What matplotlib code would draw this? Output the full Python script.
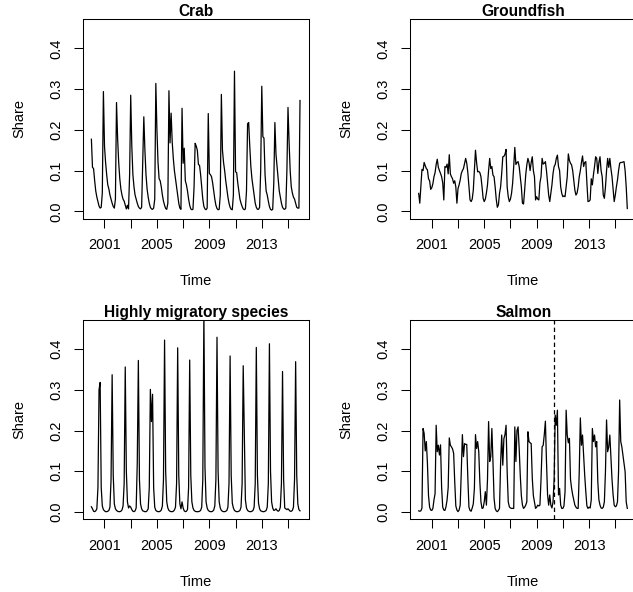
import numpy as np
import matplotlib
matplotlib.use("Agg")
import matplotlib.pyplot as plt

plt.rcParams['font.family'] = ['Liberation Sans', 'DejaVu Sans']

# monthly shares, Jan 2000 .. Dec 2015
start_year = 2000
titles = ["Crab", "Groundfish", "Highly migratory species", "Salmon"]

crab = [
    0.177, 0.108, 0.105, 0.075, 0.050, 0.035, 0.024, 0.013, 0.008, 0.010, 0.045, 0.294,
    0.160, 0.120, 0.090, 0.065, 0.055, 0.040, 0.030, 0.020, 0.012, 0.008, 0.030, 0.267,
    0.180, 0.120, 0.080, 0.055, 0.040, 0.030, 0.025, 0.015, 0.006, 0.015, 0.006, 0.090,
    0.285, 0.160, 0.090, 0.060, 0.040, 0.030, 0.020, 0.012, 0.008, 0.006, 0.010, 0.120,
    0.232, 0.150, 0.090, 0.055, 0.035, 0.020, 0.010, 0.006, 0.005, 0.008, 0.030, 0.314,
    0.200, 0.120, 0.080, 0.075, 0.060, 0.040, 0.025, 0.015, 0.007, 0.005, 0.020, 0.296,
    0.168, 0.241, 0.170, 0.130, 0.100, 0.080, 0.060, 0.040, 0.020, 0.008, 0.005, 0.253,
    0.118, 0.155, 0.075, 0.065, 0.050, 0.030, 0.015, 0.006, 0.004, 0.005, 0.060, 0.167,
    0.160, 0.150, 0.115, 0.113, 0.090, 0.060, 0.030, 0.012, 0.006, 0.004, 0.008, 0.240,
    0.093, 0.090, 0.085, 0.070, 0.050, 0.030, 0.015, 0.007, 0.004, 0.005, 0.040, 0.287,
    0.150, 0.120, 0.100, 0.075, 0.055, 0.035, 0.020, 0.010, 0.005, 0.004, 0.040, 0.344,
    0.097, 0.095, 0.070, 0.050, 0.030, 0.020, 0.012, 0.006, 0.004, 0.006, 0.050, 0.215,
    0.218, 0.160, 0.110, 0.080, 0.060, 0.040, 0.020, 0.010, 0.005, 0.005, 0.010, 0.100,
    0.307, 0.183, 0.180, 0.090, 0.050, 0.040, 0.025, 0.012, 0.005, 0.003, 0.005, 0.070,
    0.218, 0.140, 0.110, 0.080, 0.050, 0.035, 0.020, 0.010, 0.006, 0.005, 0.008, 0.100,
    0.255, 0.170, 0.100, 0.060, 0.045, 0.035, 0.030, 0.020, 0.010, 0.008, 0.008, 0.272,
]

groundfish = [
    0.044, 0.020, 0.060, 0.103, 0.100, 0.120, 0.112, 0.105, 0.102, 0.080, 0.075, 0.054,
    0.058, 0.068, 0.085, 0.095, 0.115, 0.128, 0.108, 0.100, 0.093, 0.085, 0.070, 0.028,
    0.110, 0.108, 0.116, 0.092, 0.139, 0.092, 0.085, 0.080, 0.069, 0.075, 0.060, 0.020,
    0.056, 0.065, 0.077, 0.093, 0.100, 0.105, 0.118, 0.130, 0.118, 0.095, 0.060, 0.028,
    0.024, 0.030, 0.052, 0.100, 0.150, 0.120, 0.097, 0.098, 0.095, 0.085, 0.060, 0.032,
    0.024, 0.030, 0.045, 0.065, 0.100, 0.130, 0.105, 0.110, 0.089, 0.085, 0.060, 0.030,
    0.010, 0.016, 0.044, 0.060, 0.093, 0.134, 0.135, 0.140, 0.152, 0.060, 0.036, 0.024,
    0.030, 0.044, 0.069, 0.110, 0.157, 0.115, 0.120, 0.122, 0.110, 0.085, 0.060, 0.020,
    0.018, 0.052, 0.090, 0.114, 0.130, 0.120, 0.100, 0.120, 0.134, 0.100, 0.085, 0.028,
    0.036, 0.030, 0.028, 0.070, 0.085, 0.130, 0.116, 0.118, 0.122, 0.100, 0.069, 0.040,
    0.024, 0.045, 0.065, 0.093, 0.110, 0.115, 0.130, 0.138, 0.110, 0.100, 0.060, 0.044,
    0.036, 0.038, 0.036, 0.060, 0.085, 0.141, 0.125, 0.118, 0.114, 0.100, 0.075, 0.052,
    0.040, 0.045, 0.060, 0.085, 0.100, 0.120, 0.136, 0.110, 0.120, 0.122, 0.070, 0.024,
    0.025, 0.028, 0.080, 0.065, 0.090, 0.110, 0.134, 0.130, 0.093, 0.120, 0.134, 0.100,
    0.085, 0.040, 0.032, 0.060, 0.100, 0.130, 0.108, 0.130, 0.105, 0.085, 0.055, 0.024,
    0.040, 0.060, 0.077, 0.100, 0.118, 0.120, 0.120, 0.121, 0.122, 0.100, 0.060, 0.007,
]

hms = [
    0.013, 0.008, 0.002, 0.001, 0.003, 0.008, 0.060, 0.300, 0.318, 0.060, 0.015, 0.006,
    0.003, 0.001, 0.001, 0.002, 0.004, 0.012, 0.080, 0.337, 0.090, 0.020, 0.008, 0.004,
    0.002, 0.001, 0.001, 0.002, 0.005, 0.015, 0.070, 0.356, 0.100, 0.025, 0.010, 0.015,
    0.012, 0.006, 0.002, 0.001, 0.003, 0.010, 0.120, 0.372, 0.080, 0.020, 0.008, 0.003,
    0.002, 0.001, 0.001, 0.003, 0.008, 0.060, 0.301, 0.222, 0.289, 0.060, 0.012, 0.004,
    0.002, 0.001, 0.001, 0.002, 0.005, 0.015, 0.080, 0.422, 0.100, 0.025, 0.010, 0.004,
    0.002, 0.001, 0.001, 0.002, 0.005, 0.012, 0.070, 0.403, 0.090, 0.020, 0.008, 0.025,
    0.010, 0.003, 0.001, 0.002, 0.006, 0.060, 0.373, 0.090, 0.025, 0.010, 0.004, 0.002,
    0.001, 0.001, 0.001, 0.002, 0.004, 0.012, 0.080, 0.490, 0.110, 0.025, 0.010, 0.004,
    0.002, 0.001, 0.001, 0.002, 0.005, 0.015, 0.080, 0.429, 0.100, 0.025, 0.010, 0.004,
    0.002, 0.001, 0.001, 0.002, 0.004, 0.012, 0.070, 0.383, 0.090, 0.022, 0.010, 0.004,
    0.002, 0.001, 0.001, 0.002, 0.004, 0.012, 0.070, 0.359, 0.190, 0.030, 0.010, 0.004,
    0.002, 0.001, 0.001, 0.002, 0.004, 0.012, 0.070, 0.404, 0.090, 0.022, 0.008, 0.003,
    0.002, 0.001, 0.001, 0.002, 0.004, 0.012, 0.070, 0.413, 0.100, 0.025, 0.010, 0.004,
    0.005, 0.008, 0.004, 0.002, 0.004, 0.012, 0.070, 0.345, 0.080, 0.010, 0.008, 0.006,
    0.008, 0.005, 0.002, 0.002, 0.004, 0.012, 0.080, 0.369, 0.090, 0.020, 0.006, 0.003,
]

salmon = [
    0.003, 0.002, 0.003, 0.010, 0.205, 0.193, 0.150, 0.173, 0.120, 0.040, 0.012, 0.005,
    0.004, 0.009, 0.030, 0.045, 0.213, 0.148, 0.164, 0.140, 0.165, 0.060, 0.012, 0.005,
    0.004, 0.013, 0.030, 0.060, 0.182, 0.164, 0.160, 0.155, 0.144, 0.074, 0.015, 0.005,
    0.001, 0.005, 0.017, 0.099, 0.190, 0.136, 0.168, 0.166, 0.166, 0.083, 0.012, 0.004,
    0.002, 0.010, 0.020, 0.058, 0.190, 0.156, 0.173, 0.148, 0.074, 0.025, 0.009, 0.010,
    0.025, 0.050, 0.017, 0.080, 0.222, 0.124, 0.136, 0.205, 0.124, 0.034, 0.009, 0.003,
    0.001, 0.004, 0.009, 0.120, 0.189, 0.115, 0.180, 0.190, 0.213, 0.099, 0.025, 0.013,
    0.010, 0.009, 0.009, 0.009, 0.209, 0.124, 0.200, 0.209, 0.156, 0.090, 0.040, 0.017,
    0.009, 0.012, 0.017, 0.025, 0.197, 0.173, 0.170, 0.168, 0.083, 0.040, 0.025, 0.009,
    0.012, 0.017, 0.015, 0.017, 0.080, 0.160, 0.164, 0.190, 0.223, 0.124, 0.042, 0.017,
    0.042, 0.017, 0.010, 0.025, 0.080, 0.238, 0.213, 0.250, 0.042, 0.058, 0.017, 0.009,
    0.009, 0.015, 0.050, 0.250, 0.189, 0.170, 0.181, 0.080, 0.058, 0.042, 0.030, 0.017,
    0.012, 0.009, 0.009, 0.100, 0.231, 0.164, 0.189, 0.140, 0.090, 0.050, 0.015, 0.009,
    0.012, 0.010, 0.030, 0.205, 0.173, 0.189, 0.160, 0.173, 0.074, 0.030, 0.017, 0.010,
    0.009, 0.012, 0.025, 0.100, 0.226, 0.148, 0.160, 0.189, 0.132, 0.080, 0.042, 0.017,
    0.013, 0.015, 0.025, 0.100, 0.275, 0.173, 0.160, 0.140, 0.120, 0.099, 0.025, 0.009,
]

salmon_break = 2010.36  # dashed vertical line in the salmon panel

series = [crab, groundfish, hms, salmon]
yticks = [0.0, 0.1, 0.2, 0.3, 0.4]
xticks = [2001, 2003, 2005, 2007, 2009, 2011, 2013, 2015]
xlabels = ["2001", "", "2005", "", "2009", "", "2013", ""]

W, H = 633, 592
fig = plt.figure(figsize=(W / 100, H / 100), dpi=100)

# axes boxes in pixels: (left, top, width, height)
boxes = [(83, 19, 225.7, 199.7), (410.3, 19, 225.7, 199.7),
         (83, 319.7, 225.7, 199.7), (410.3, 319.7, 225.7, 199.7)]

for k, (vals, title) in enumerate(zip(series, titles)):
    l, t, w, h = boxes[k]
    ax = fig.add_axes([l / W, 1 - (t + h) / H, w / W, h / H])
    vals = np.array(vals)
    time = start_year + np.arange(len(vals)) / 12.0
    ax.plot(time, vals, color="black", lw=0.9)
    if title == "Salmon":
        ax.axvline(salmon_break, color="black", lw=0.9, linestyle=(0, (3.5, 2.5)))
    ax.set_xlim(1999.36, 2016.58)
    ax.set_ylim(-0.018, 0.472)
    ax.set_yticks(yticks)
    ax.set_yticklabels(["%.1f" % v for v in yticks], rotation=90, va="center")
    ax.set_xticks(xticks)
    ax.set_xticklabels(xlabels)
    ax.tick_params(direction="out", length=6.5, width=0.75, labelsize=10.5, color="black")
    ax.tick_params(axis="x", pad=7.5)
    ax.tick_params(axis="y", pad=7.5)
    for s in ax.spines.values():
        s.set_linewidth(0.75)
    ax.set_title(title, fontsize=11.2, fontweight="bold", pad=1.5)
    ax.set_xlabel("Time", fontsize=10.5)
    ax.xaxis.set_label_coords(0.5, -0.276)
    ax.set_ylabel("Share", fontsize=10.5)
    ax.yaxis.set_label_coords(-0.251, 0.5)

fig.savefig("out.png", dpi=100)
